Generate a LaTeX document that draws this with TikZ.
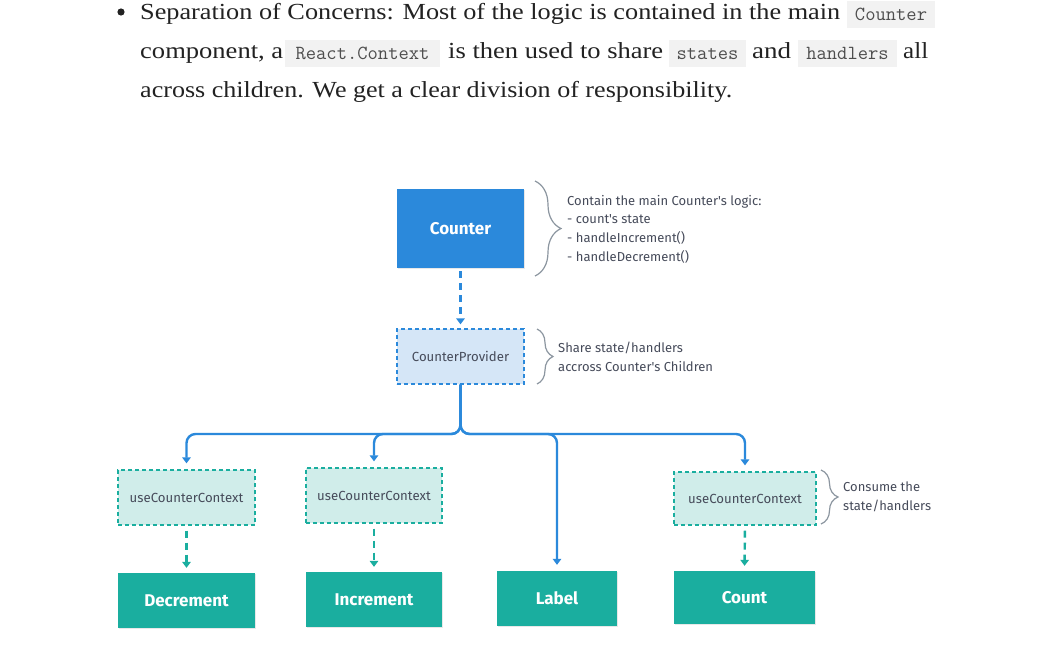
\documentclass[tikz,border=0pt]{standalone}
\usepackage{fontspec}
\usepackage{graphicx}
\setmainfont{Liberation Serif}
\newfontfamily\diagf{Fira Sans}
\newfontfamily\codef{Latin Modern Mono}
\usetikzlibrary{arrows.meta,decorations.pathreplacing,calc,shadows}
\definecolor{cblue}{RGB}{43,137,219}
\definecolor{lblue}{RGB}{213,230,247}
\definecolor{cteal}{RGB}{26,174,159}
\definecolor{lteal}{RGB}{208,237,234}
\definecolor{dtext}{RGB}{70,75,90}
\definecolor{bgray}{RGB}{140,150,160}
\definecolor{codebg}{RGB}{242,242,242}
\definecolor{bodytext}{RGB}{34,34,34}
\tikzset{
  body/.style={anchor=base west, inner sep=0pt, text=bodytext, font=\fontsize{23}{28}\selectfont},
  codebox/.style={fill=codebg, inner sep=0pt, text=bodytext!85},
  codetext/.style={anchor=base, inner sep=0pt, text=bodytext!80, font=\codef\fontsize{20}{22}\selectfont},
  solidbox/.style={inner sep=0pt, text=white, font=\diagf\bfseries\fontsize{17}{20}\selectfont,
    drop shadow={opacity=0.18, shadow xshift=0.6pt, shadow yshift=-0.8pt}},
  bluebox/.style={solidbox, fill=cblue},
  tealbox/.style={solidbox, fill=cteal},
  provbox/.style={inner sep=0pt, fill=lblue, draw=cblue, line width=1.3pt, dash pattern=on 4pt off 3pt,
    text=dtext, font=\diagf\fontsize{13.2}{15}\selectfont},
  hookbox/.style={inner sep=0pt, fill=lteal, draw=cteal, line width=1.3pt, dash pattern=on 4pt off 3pt,
    text=dtext, font=\diagf\fontsize{13.2}{15}\selectfont},
  anno/.style={anchor=west, inner sep=0pt, align=left, text=dtext, font=\diagf\fontsize{13}{18.7}\selectfont},
  bracestyle/.style={draw=bgray, line width=1.2pt, decorate},
  bluearrow/.style={draw=cblue, line width=2.4pt, rounded corners=9pt, -{Triangle[width=8.5pt,length=6pt]}, shorten >=6pt},
  bluedash/.style={draw=cblue, line width=2.4pt, dash pattern=on 7pt off 5pt, -{Triangle[width=8.5pt,length=6pt]}, shorten <=3pt, shorten >=4pt},
  tealdash/.style={draw=cteal, line width=2.4pt, dash pattern=on 7pt off 5pt, -{Triangle[width=8.5pt,length=6pt]}, shorten <=5pt, shorten >=5pt},
}
\begin{document}
\begin{tikzpicture}[x=1pt,y=-1pt]
\useasboundingbox[fill=white] (0,0) rectangle (1047,667);
% paragraph
\fill[bodytext] (121,12) circle (3.6);
\node[body] (t1) at (140,19) {\resizebox{700pt}{\height}{Separation of Concerns: Most of the logic is contained in the main}};
\node[codebox, minimum width=88pt, minimum height=27pt] (c1) at (891,14.5) {};
\node[codetext] (c1t) at (891,20) {Counter};
\node[body] (t2) at (140,58) {\resizebox{143pt}{\height}{component, a}};
\node[codebox, minimum width=155pt, minimum height=27pt] (c2) at (362.5,53.5) {};
\node[codetext] (c2t) at (362.5,59) {React.Context};
\node[body] (t3) at (448,58) {\resizebox{215pt}{\height}{is then used to share}};
\node[codebox, minimum width=77pt, minimum height=27pt] (c3) at (707.5,53.5) {};
\node[codetext] (c3t) at (707.5,59) {states};
\node[body] (t4) at (752,58) {\resizebox{39pt}{\height}{and}};
\node[codebox, minimum width=99pt, minimum height=27pt] (c4) at (847.5,53.5) {};
\node[codetext] (c4t) at (847.5,59) {handlers};
\node[body] (t5) at (903,58) {\resizebox{25pt}{\height}{all}};
\node[body] (t6) at (140,97) {\resizebox{592pt}{\height}{across children. We get a clear division of responsibility.}};
% diagram nodes
\node[bluebox, minimum width=127pt, minimum height=79pt] (counter) at (460.5,228.5) {Counter};
\node[provbox, minimum width=127pt, minimum height=55pt] (prov) at (460.5,356.5) {CounterProvider};
\node[hookbox, minimum width=137pt, minimum height=55pt] (u1) at (186.5,497.5) {useCounterContext};
\node[hookbox, minimum width=136pt, minimum height=55pt] (u2) at (374,495.5) {useCounterContext};
\node[hookbox, minimum width=142pt, minimum height=53pt] (u3) at (745,498.5) {useCounterContext};
\node[tealbox, minimum width=137pt, minimum height=55pt] (dec) at (186.5,600.5) {Decrement};
\node[tealbox, minimum width=136pt, minimum height=55pt] (inc) at (374,599.5) {Increment};
\node[tealbox, minimum width=120pt, minimum height=55pt] (lab) at (557,598.5) {Label};
\node[tealbox, minimum width=141pt, minimum height=53pt] (cnt) at (744.5,597.5) {Count};
% annotations
\node[anno] (a1) at (567,229) {Contain the main Counter's logic:\\- count's state\\- handleIncrement()\\- handleDecrement()};
\node[anno] (a2) at (558,357) {Share state/handlers\\accross Counter's Children};
\node[anno] (a3) at (843,497) {Consume the\\state/handlers};
\draw[bracestyle, decoration={brace, amplitude=26pt}] (535,181) -- (535,276);
\draw[bracestyle, decoration={brace, amplitude=16pt}] (537,329) -- (537,384);
\draw[bracestyle, decoration={brace, amplitude=17pt}] (821,470) -- (821,524);
% connectors
\coordinate (j) at (460.5,434);
\draw[bluedash] (counter.south) -- (prov.north);
\draw[bluearrow] (prov.south) -- (j) -| (u1.north);
\draw[bluearrow] (prov.south) -- (j) -| (u2.north);
\draw[bluearrow] (prov.south) -- (j) -| (lab.north);
\draw[bluearrow] (prov.south) -- (j) -| (u3.north);
\draw[tealdash] (u1.south) -- (dec.north);
\draw[tealdash] (u2.south) -- (inc.north);
\draw[tealdash] (u3.south) -- (cnt.north);
\end{tikzpicture}
\end{document}
